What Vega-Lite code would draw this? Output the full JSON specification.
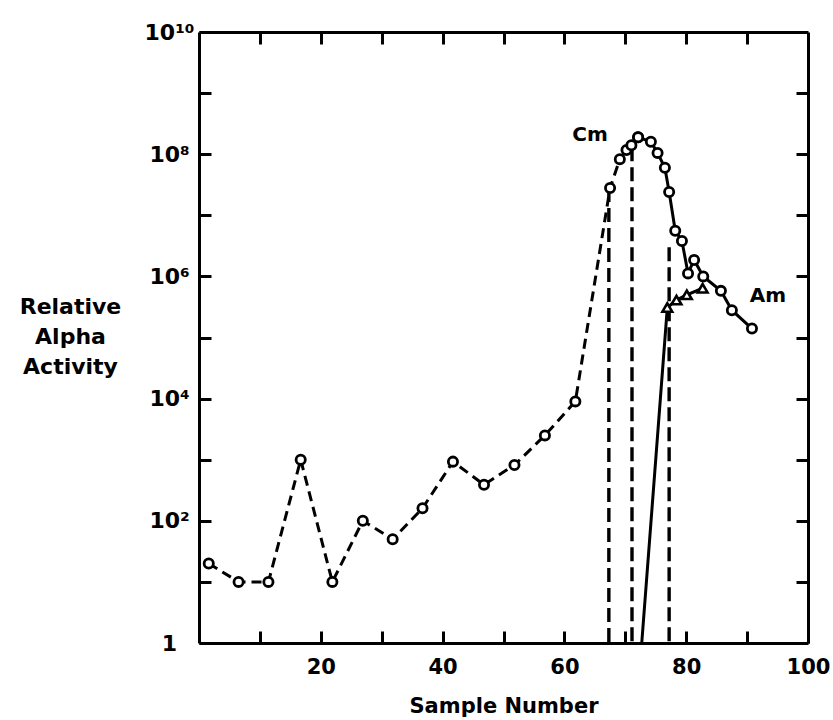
{
  "$schema": "https://vega.github.io/schema/vega-lite/v6.json",
  "width": 609,
  "height": 611,
  "autosize": {"type": "none"},
  "padding": {"left": 199, "top": 32, "right": 25, "bottom": 77},
  "background": "white",
  "config": {"view": {"stroke": null}, "font": "DejaVu Sans"},
  "datasets": {
    "cm_dash": [
      {"x": 1.6, "y": 20}, {"x": 6.5, "y": 10}, {"x": 11.4, "y": 10}, {"x": 16.7, "y": 1000},
      {"x": 21.9, "y": 10}, {"x": 26.9, "y": 100}, {"x": 31.8, "y": 50}, {"x": 36.7, "y": 160},
      {"x": 41.7, "y": 930}, {"x": 46.8, "y": 390}, {"x": 51.8, "y": 820}, {"x": 56.8, "y": 2500},
      {"x": 61.8, "y": 9000}, {"x": 67.5, "y": 28000000}, {"x": 69.1, "y": 83000000},
      {"x": 70.2, "y": 117000000}, {"x": 71.0, "y": 140000000}, {"x": 72.1, "y": 190000000}
    ],
    "cm_solid": [
      {"x": 72.1, "y": 190000000}, {"x": 74.2, "y": 160000000}, {"x": 75.3, "y": 105000000},
      {"x": 76.5, "y": 60000000}, {"x": 77.2, "y": 24000000}, {"x": 78.2, "y": 5600000},
      {"x": 79.3, "y": 3800000}, {"x": 80.3, "y": 1120000}, {"x": 81.3, "y": 1860000},
      {"x": 82.8, "y": 1000000}, {"x": 85.7, "y": 580000}, {"x": 87.5, "y": 280000}, {"x": 90.8, "y": 140000}
    ],
    "am": [
      {"x": 72.7, "y": 1}, {"x": 76.9, "y": 310000}, {"x": 78.4, "y": 410000},
      {"x": 80.1, "y": 500000}, {"x": 82.7, "y": 640000}
    ],
    "drops": [
      {"x": 67.3, "top": 28000000, "bottom": 1},
      {"x": 71.1, "top": 130000000, "bottom": 1},
      {"x": 77.2, "top": 3000000, "bottom": 1}
    ],
    "labels": [
      {"label": "Cm", "x": 64.2, "y": 204000000},
      {"label": "Am", "x": 93.4, "y": 470000}
    ]
  },
  "resolve": {"axis": {"x": "independent", "y": "independent"}},
  "layer": [
    {
      "data": {"name": "drops"},
      "mark": {"type": "rule", "strokeDash": [14, 6], "strokeWidth": 3.4, "color": "black"},
      "encoding": {
        "x": {"field": "x", "type": "quantitative", "scale": {"domain": [0, 100], "nice": false, "zero": false}, "axis": null},
        "y": {"field": "top", "type": "quantitative", "scale": {"type": "log", "domain": [1, 10000000000], "nice": false}, "axis": null},
        "y2": {"field": "bottom"}
      }
    },
    {
      "data": {"name": "cm_dash"},
      "mark": {"type": "line", "strokeDash": [10, 6], "strokeWidth": 3, "color": "black"},
      "encoding": {
        "x": {
          "field": "x", "type": "quantitative",
          "axis": {
            "orient": "bottom", "values": [10, 20, 30, 40, 50, 60, 70, 80, 90, 100],
            "labelExpr": "datum.value % 20 == 0 ? datum.label : ''",
            "tickSize": -12, "tickWidth": 3, "tickColor": "black",
            "domainWidth": 3, "domainColor": "black", "grid": false,
            "labelFont": "DejaVu Sans", "labelFontWeight": "bold", "labelFontSize": 21, "labelColor": "black",
            "labelPadding": 25, "labelFlush": false, "labelOverlap": false,
            "title": "Sample Number", "titleFont": "DejaVu Sans", "titleFontWeight": "bold", "titleFontSize": 21,
            "titleColor": "black", "titleBaseline": "top", "titleY": 52
          }
        },
        "y": {
          "field": "y", "type": "quantitative",
          "axis": {
            "orient": "left",
            "values": [1, 10, 100, 1000, 10000, 100000, 1000000, 10000000, 100000000, 1000000000, 10000000000],
            "labelExpr": "datum.value < 2 ? '1' : round(log(datum.value)/LN10) == 10 ? '10¹⁰' : round(log(datum.value)/LN10) == 8 ? '10⁸' : round(log(datum.value)/LN10) == 6 ? '10⁶' : round(log(datum.value)/LN10) == 4 ? '10⁴' : round(log(datum.value)/LN10) == 2 ? '10²' : ''",
            "tickSize": -12, "tickWidth": 3, "tickColor": "black",
            "domainWidth": 3, "domainColor": "black", "grid": false,
            "labelFont": "DejaVu Sans", "labelFontWeight": "bold", "labelFontSize": 22, "labelColor": "black",
            "labelAlign": "center", "labelBaseline": "middle", "labelPadding": 42, "labelFlush": false, "labelOverlap": false,
            "title": ["Relative", "Alpha", "Activity"], "titleFont": "DejaVu Sans", "titleFontWeight": "bold",
            "titleFontSize": 22, "titleColor": "black", "titleAngle": 0, "titleAlign": "center",
            "titleBaseline": "top", "titleX": -129, "titleY": 264, "titleLineHeight": 30
          }
        }
      }
    },
    {
      "data": {"name": "cm_solid"},
      "mark": {"type": "line", "strokeWidth": 3, "color": "black"},
      "encoding": {
        "x": {
          "field": "x", "type": "quantitative",
          "axis": {
            "orient": "top", "values": [10, 20, 30, 40, 50, 60, 70, 80, 90],
            "labels": false, "tickSize": -12, "tickWidth": 3, "tickColor": "black",
            "domainWidth": 3, "domainColor": "black", "grid": false, "title": null
          }
        },
        "y": {
          "field": "y", "type": "quantitative",
          "axis": {
            "orient": "right",
            "values": [10, 100, 1000, 10000, 100000, 1000000, 10000000, 100000000, 1000000000],
            "labels": false, "tickSize": -12, "tickWidth": 3, "tickColor": "black",
            "domainWidth": 3, "domainColor": "black", "grid": false, "title": null
          }
        }
      }
    },
    {
      "data": {"name": "am"},
      "mark": {"type": "line", "strokeWidth": 3, "color": "black"},
      "encoding": {
        "x": {"field": "x", "type": "quantitative", "axis": null},
        "y": {"field": "y", "type": "quantitative", "axis": null}
      }
    },
    {
      "data": {"name": "cm_dash"},
      "mark": {"type": "point", "shape": "circle", "size": 85, "filled": false, "fill": "white", "fillOpacity": 1, "stroke": "black", "strokeWidth": 2.8, "opacity": 1},
      "encoding": {
        "x": {"field": "x", "type": "quantitative", "axis": null},
        "y": {"field": "y", "type": "quantitative", "axis": null}
      }
    },
    {
      "data": {"name": "cm_solid"},
      "mark": {"type": "point", "shape": "circle", "size": 85, "filled": false, "fill": "white", "fillOpacity": 1, "stroke": "black", "strokeWidth": 2.8, "opacity": 1},
      "encoding": {
        "x": {"field": "x", "type": "quantitative", "axis": null},
        "y": {"field": "y", "type": "quantitative", "axis": null}
      }
    },
    {
      "data": {"name": "am"},
      "transform": [{"filter": "datum.y > 1"}],
      "mark": {"type": "point", "shape": "triangle-up", "size": 95, "filled": false, "fill": "white", "fillOpacity": 1, "stroke": "black", "strokeWidth": 2.6, "opacity": 1},
      "encoding": {
        "x": {"field": "x", "type": "quantitative", "axis": null},
        "y": {"field": "y", "type": "quantitative", "axis": null}
      }
    },
    {
      "data": {"name": "labels"},
      "mark": {"type": "text", "font": "DejaVu Sans", "fontWeight": "bold", "fontSize": 20, "color": "black", "align": "center", "baseline": "middle"},
      "encoding": {
        "x": {"field": "x", "type": "quantitative", "axis": null},
        "y": {"field": "y", "type": "quantitative", "axis": null},
        "text": {"field": "label"}
      }
    }
  ]
}
